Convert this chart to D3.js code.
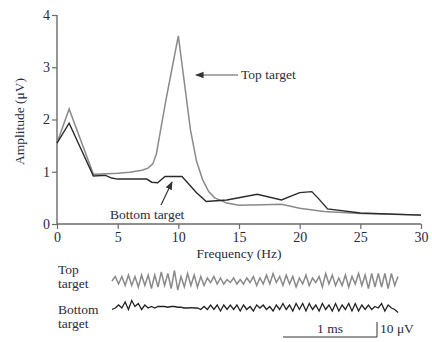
<!DOCTYPE html>
<html lang="en">
<head>
    <meta charset="UTF-8">
    <title>Amplitude spectrum, top vs bottom target</title>
    <script src="https://d3js.org/d3.v7.min.js" charset="utf-8"></script>
    <style>
        body, html {
            margin: 0;
            padding: 0;
            background: #ffffff;
            overflow: hidden;
        }
        text {
            font-family: "Liberation Serif", "DejaVu Serif", serif;
            fill: #2a2b3f;
        }
    </style>
</head>
<body>
    <svg id="chart"></svg>

    <script>
        const width = 432;
        const height = 342;

        // spectrum data: frequency (Hz) and amplitude (uV)
        const topFreq = [0, 1, 3, 5, 6, 7, 7.5, 7.9, 8.2, 8.5, 9, 9.5, 10, 10.5, 11, 11.5, 12, 12.5, 13, 14, 15, 17, 18.5, 20, 22, 25, 30];
        const topAmp  = [1.55, 2.2, 0.95, 0.97, 0.99, 1.03, 1.07, 1.15, 1.35, 1.75, 2.4, 3.0, 3.6, 2.7, 1.8, 1.2, 0.85, 0.62, 0.5, 0.4, 0.36, 0.37, 0.38, 0.3, 0.24, 0.2, 0.17];

        const bottomFreq = [0, 1, 3, 4, 4.5, 5, 7.4, 7.8, 8.3, 8.9, 10.3, 11.5, 12.3, 14, 16.5, 18.5, 20, 21, 21.5, 22.3, 25, 30];
        const bottomAmp  = [1.55, 1.93, 0.92, 0.93, 0.88, 0.86, 0.86, 0.8, 0.79, 0.91, 0.91, 0.6, 0.43, 0.46, 0.57, 0.46, 0.6, 0.62, 0.5, 0.29, 0.21, 0.17];

        const xTicks = [0, 5, 10, 15, 20, 25, 30];
        const yTicks = [0, 1, 2, 3, 4];

        // raw traces (uV, equal time steps over ~3 ms)
        const topTrace = [0, 3, -2, 3, -3, 4, -3, 3, -4, 4, -3, 4, -5, 4, -4, 6, -3, 5, -5, 7, -6, 3, -4, 5, -3, 4, -4, 3, -3, 2,
                          -1, 3, -2, 2, -2, 1, -1, 2, -2, 1, -2, 2, -1, 3, -3, 2, -2, 4, -2, 5, -1, 3, -3, 4, -2, 3, -4, 2, -2, 4,
                          -3, 2, -1, 3, -4, 5, -2, 4, -3, 2, -3, 4, -4, 3, -2, 5, -3, 4, -5, 5, -4, 5, -4, 5, -5, 5, -3, 3];
        const bottomTrace = [-1, 0, 2, 0, 4, -1, 5, 1, 3, -1, 2, 0, 1, 0, 1, 1, 1, 0.5, 1, 1, 0.5, 0.5, 0, 0, 0.3, 0, 0, -1, 1, -1,
                             2, -1, 2, -2, 2, -1, 2, -1, 2, -2, 2, -1, 1, -2, 2, 0, 2, -1, 1, -2, 2, -1, 3, -1, 2, -2, 3, -1, 3, -2,
                             3, -1, 2, -2, 3, -1, 2, -2, 3, -2, 2, -1, 3, -2, 3, -2, 2, -1, 2, -1, 1, 0, 3, -2, 2, 0, -1, -3];

        const svg = d3.select("#chart")
            .attr("width", width)
            .attr("height", height);

        const x = d3.scaleLinear().domain([0, 30]).range([57, 421]);
        const y = d3.scaleLinear().domain([0, 4]).range([224, 15]);

        // axes
        const axisColor = "#6a6a6a";

        const xAxis = svg.append("g")
            .attr("transform", `translate(0,${y(0)})`)
            .call(d3.axisBottom(x).tickValues(xTicks).tickFormat(d3.format("d")).tickSize(5).tickPadding(3));
        const yAxis = svg.append("g")
            .attr("transform", `translate(${x(0)},0)`)
            .call(d3.axisLeft(y).tickValues(yTicks).tickFormat(d3.format("d")).tickSize(5).tickPadding(2));

        [xAxis, yAxis].forEach(g => {
            g.select(".domain").attr("stroke", axisColor).attr("stroke-width", 1.4);
            g.selectAll(".tick line").attr("stroke", axisColor).attr("stroke-width", 1.2);
            g.selectAll(".tick text")
                .style("font-family", "'Liberation Serif', 'DejaVu Serif', serif")
                .style("font-size", "14px")
                .style("fill", "#2a2b3f");
        });
        xAxis.select(".domain").attr("d", `M${x(0)},0H${x(30)}`);
        yAxis.select(".domain").attr("d", `M0,${y(0)}V${y(4)}`);

        svg.append("text")
            .attr("x", (x(0) + x(30)) / 2)
            .attr("y", 258)
            .attr("text-anchor", "middle")
            .style("font-size", "13.5px")
            .text("Frequency (Hz)");

        svg.append("text")
            .attr("transform", `translate(24,${y(2) + 2}) rotate(-90)`)
            .attr("text-anchor", "middle")
            .style("font-size", "13.5px")
            .text("Amplitude (\u03bcV)");

        // spectra
        const topData = topFreq.map((f, i) => [f, topAmp[i]]);
        const bottomData = bottomFreq.map((f, i) => [f, bottomAmp[i]]);

        svg.append("path")
            .datum(topData)
            .attr("fill", "none")
            .attr("stroke", "#8a8a8a")
            .attr("stroke-width", 1.5)
            .attr("d", d3.line().x(d => x(d[0])).y(d => y(d[1])));

        svg.append("path")
            .datum(bottomData)
            .attr("fill", "none")
            .attr("stroke", "#2b2b2b")
            .attr("stroke-width", 1.4)
            .attr("d", d3.line().x(d => x(d[0])).y(d => y(d[1])));

        // annotations
        const defs = svg.append("defs");
        defs.append("marker")
            .attr("id", "arrow")
            .attr("viewBox", "0 0 10 10")
            .attr("refX", 9)
            .attr("refY", 5)
            .attr("markerWidth", 7)
            .attr("markerHeight", 7)
            .attr("orient", "auto")
            .append("path")
            .attr("d", "M0,1L10,5L0,9z")
            .attr("fill", "#333");

        svg.append("line")
            .attr("x1", 238).attr("y1", 75)
            .attr("x2", 196).attr("y2", 75)
            .attr("stroke", "#555")
            .attr("stroke-width", 1.2)
            .attr("marker-end", "url(#arrow)");
        svg.append("text")
            .attr("x", 241)
            .attr("y", 79)
            .style("font-size", "13.5px")
            .text("Top target");

        svg.append("line")
            .attr("x1", 161).attr("y1", 205)
            .attr("x2", 172).attr("y2", 182)
            .attr("stroke", "#333")
            .attr("stroke-width", 1.2)
            .attr("marker-end", "url(#arrow)");
        svg.append("text")
            .attr("x", 110)
            .attr("y", 219)
            .style("font-size", "13.5px")
            .text("Bottom target");

        // raw traces
        const tx = d3.scaleLinear().domain([0, topTrace.length - 1]).range([112, 398]);
        const tbx = d3.scaleLinear().domain([0, bottomTrace.length - 1]).range([112, 398]);
        const uv = 1.5; // px per uV

        svg.append("path")
            .datum(topTrace)
            .attr("fill", "none")
            .attr("stroke", "#8a8a8a")
            .attr("stroke-width", 1.5)
            .attr("d", d3.line().x((d, i) => tx(i)).y(d => 281 - d * uv));

        svg.append("path")
            .datum(bottomTrace)
            .attr("fill", "none")
            .attr("stroke", "#222")
            .attr("stroke-width", 1.3)
            .attr("d", d3.line().x((d, i) => tbx(i)).y(d => 308 - d * uv));

        const labels = [["Top", 274], ["target", 288], ["Bottom", 314], ["target", 328]];
        svg.selectAll(".trace-label")
            .data(labels)
            .join("text")
            .attr("class", "trace-label")
            .attr("x", 58)
            .attr("y", d => d[1])
            .style("font-size", "13.5px")
            .text(d => d[0]);

        // scale bars: 1 ms and 10 uV
        svg.append("path")
            .attr("d", `M283,337H377V${337 - 10 * uv}`)
            .attr("fill", "none")
            .attr("stroke", "#333")
            .attr("stroke-width", 1);
        svg.append("text")
            .attr("x", 330)
            .attr("y", 333)
            .attr("text-anchor", "middle")
            .style("font-size", "13.5px")
            .text("1 ms");
        svg.append("text")
            .attr("x", 380)
            .attr("y", 333)
            .style("font-size", "13.5px")
            .text("10 \u03bcV");
    </script>
</body>
</html>
